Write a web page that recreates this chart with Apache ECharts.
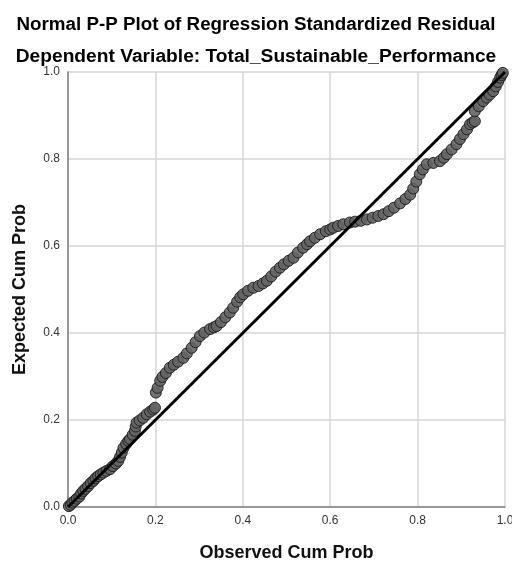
<!DOCTYPE html>
<html lang="en">
<head>
    <meta charset="UTF-8">
    <title>Normal P-P Plot</title>
    <script src="https://cdn.jsdelivr.net/npm/echarts@6/dist/echarts.min.js"></script>
    <style>
        html, body { margin: 0; padding: 0; background: #fff; }
        #chart { width: 512px; height: 562px; }
    </style>
</head>
<body>
<div id="chart"></div>
<script>
    /* values */
    var observedCum = [
        0.002, 0.006, 0.010, 0.015, 0.020, 0.026, 0.030, 0.035, 0.040, 0.046,
        0.052, 0.058, 0.063, 0.069, 0.075, 0.081, 0.088, 0.096, 0.103, 0.110,
        0.115, 0.119, 0.123, 0.127, 0.133, 0.138, 0.142, 0.148, 0.153, 0.155,
        0.157, 0.164, 0.172, 0.180, 0.188, 0.195, 0.199, 0.201, 0.205, 0.211,
        0.216, 0.224, 0.233, 0.242, 0.252, 0.264, 0.272, 0.283, 0.292, 0.302,
        0.312, 0.325, 0.334, 0.340, 0.350, 0.360, 0.370, 0.378, 0.387, 0.394,
        0.401, 0.412, 0.424, 0.436, 0.446, 0.455, 0.465, 0.475, 0.485, 0.494,
        0.505, 0.516, 0.526, 0.538, 0.547, 0.554, 0.565, 0.577, 0.590, 0.600,
        0.607, 0.618, 0.630, 0.645, 0.657, 0.670, 0.684, 0.697, 0.710, 0.722,
        0.734, 0.746, 0.760, 0.772, 0.783, 0.790, 0.797, 0.805, 0.812, 0.821,
        0.836, 0.851, 0.860, 0.867, 0.878, 0.889, 0.897, 0.905, 0.913, 0.920,
        0.926, 0.931, 0.931, 0.940, 0.950, 0.958, 0.965, 0.973, 0.979, 0.984,
        0.989, 0.992, 0.995
    ];
    var expectedCum = [
        0.002, 0.005, 0.010, 0.014, 0.019, 0.024, 0.031, 0.037, 0.042, 0.048,
        0.055, 0.060, 0.066, 0.071, 0.075, 0.079, 0.083, 0.087, 0.094, 0.100,
        0.106, 0.115, 0.125, 0.136, 0.145, 0.152, 0.156, 0.166, 0.175, 0.185,
        0.194, 0.199, 0.205, 0.213, 0.219, 0.224, 0.228, 0.263, 0.274, 0.290,
        0.299, 0.308, 0.320, 0.327, 0.334, 0.343, 0.353, 0.366, 0.379, 0.393,
        0.401, 0.409, 0.413, 0.416, 0.425, 0.436, 0.447, 0.458, 0.472, 0.482,
        0.489, 0.497, 0.504, 0.508, 0.514, 0.520, 0.530, 0.541, 0.550, 0.558,
        0.566, 0.573, 0.585, 0.596, 0.604, 0.611, 0.619, 0.627, 0.634, 0.638,
        0.642, 0.646, 0.650, 0.654, 0.656, 0.658, 0.661, 0.665, 0.669, 0.673,
        0.680, 0.688, 0.698, 0.708, 0.718, 0.732, 0.748, 0.765, 0.776, 0.788,
        0.791, 0.795, 0.803, 0.811, 0.822, 0.834, 0.846, 0.857, 0.868, 0.880,
        0.884, 0.887, 0.910, 0.921, 0.933, 0.941, 0.948, 0.956, 0.967, 0.977,
        0.987, 0.993, 0.998
    ];
    var refLine = [[0, 0], [1, 1]];

    var points = observedCum.map(function (x, i) { return [x, expectedCum[i]]; });

    var axisBase = {
        type: 'value',
        min: 0,
        max: 1,
        interval: 0.2,
        axisLine: { show: true, lineStyle: { color: '#808080', width: 1.5 } },
        axisTick: { show: false },
        splitLine: { show: true, lineStyle: { color: '#d6d6d6', width: 1.5 } },
        nameLocation: 'middle',
        nameTextStyle: { fontFamily: 'Liberation Sans', fontSize: 18, fontWeight: 'bold', color: '#111' }
    };

    var option = {
        backgroundColor: '#fff',
        animation: false,
        title: [
            {
                text: 'Normal P-P Plot of Regression Standardized Residual',
                left: 'center',
                top: 10,
                textStyle: { fontFamily: 'Liberation Sans', fontSize: 18.8, fontWeight: 'bold', color: '#000' }
            },
            {
                text: 'Dependent Variable: Total_Sustainable_Performance',
                left: 'center',
                top: 42,
                textStyle: { fontFamily: 'Liberation Sans', fontSize: 19.2, fontWeight: 'bold', color: '#000' }
            }
        ],
        grid: { left: 68, right: 7, top: 72, bottom: 55, outerBoundsMode: 'none' },
        xAxis: Object.assign({}, axisBase, {
            name: 'Observed Cum Prob',
            nameGap: 37,
            axisLabel: {
                fontFamily: 'Liberation Sans', fontSize: 12, color: '#333', margin: 8,
                formatter: function (v) { return v.toFixed(1); }
            }
        }),
        yAxis: Object.assign({}, axisBase, {
            name: 'Expected Cum Prob',
            nameGap: 39,
            axisLabel: {
                fontFamily: 'Liberation Sans', fontSize: 12, color: '#333', margin: 8,
                formatter: function (v) { return v.toFixed(1); }
            }
        }),
        series: [
            {
                type: 'scatter',
                data: points,
                symbol: 'circle',
                symbolSize: 11,
                itemStyle: { color: '#646464', borderColor: '#1a1a1a', borderWidth: 1, opacity: 0.9 },
                z: 2
            },
            {
                type: 'line',
                data: refLine,
                symbol: 'none',
                lineStyle: { color: '#000', width: 3 },
                z: 3
            }
        ]
    };

    var chart = echarts.init(document.getElementById('chart'), null, { renderer: 'canvas' });
    chart.setOption(option);
</script>
</body>
</html>
